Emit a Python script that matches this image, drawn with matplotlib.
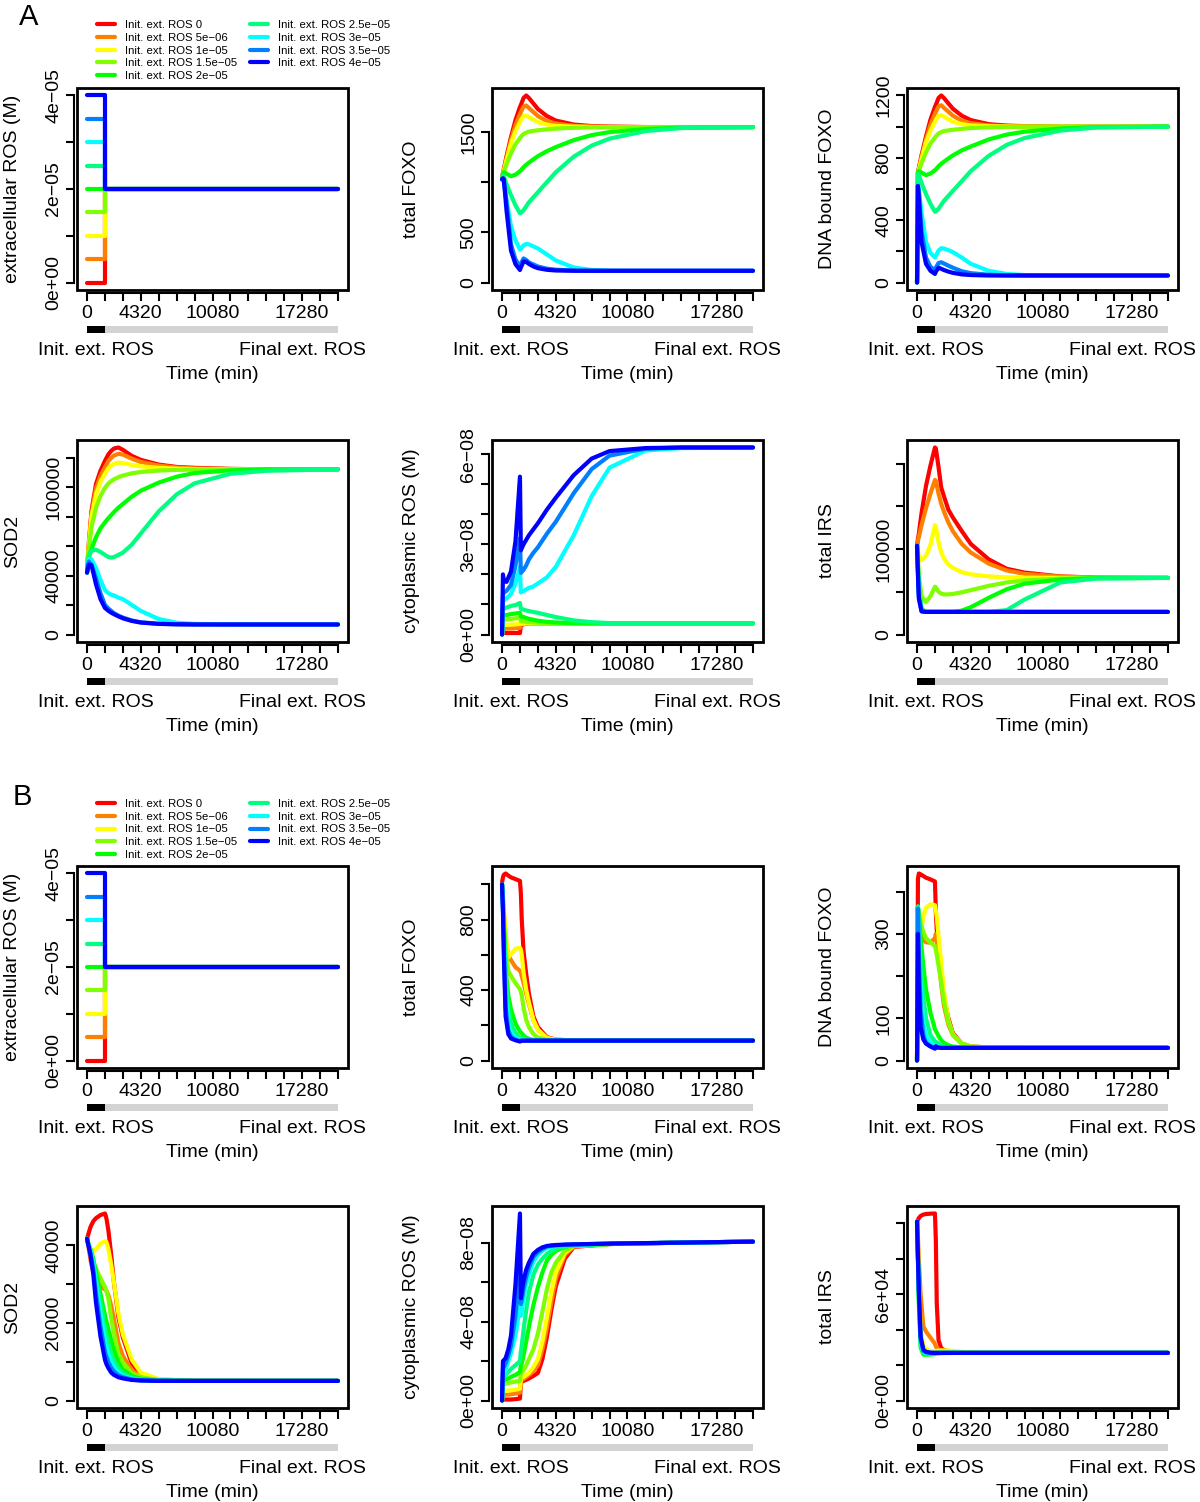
import matplotlib
matplotlib.use("Agg")
import matplotlib.pyplot as plt
import matplotlib.transforms as mtransforms
from matplotlib.patches import Rectangle
from matplotlib.lines import Line2D

plt.rcParams['font.family'] = ['Liberation Sans', 'DejaVu Sans']

W, H = 1200, 1502
MINUS = "\u2212"

# R rainbow(9, end=4/6), one colour per initial extracellular ROS level
colors = ["#FF0000", "#FF8000", "#FFFF00", "#80FF00", "#00FF00",
          "#00FF80", "#00FFFF", "#0080FF", "#0000FF"]
init_ros = [0, 5e-6, 1e-5, 1.5e-5, 2e-5, 2.5e-5, 3e-5, 3.5e-5, 4e-5]
init_labels = ["0", "5e-06", "1e-05", "1.5e-05", "2e-05",
               "2.5e-05", "3e-05", "3.5e-05", "4e-05"]
final_ros = 2e-5
switch_min = 1440
end_min = 20160

x_ticks = list(range(0, 20161, 1440))
x_shown = ["0", "4320", "10080", "17280"]

# extracellular ROS: initial level until day 1, then final level
ext_t = [0, 1440, 1440, 20160]

# ---- panel A (time grid in minutes) ----
t_a = [0, 72, 144, 360, 720, 1080, 1440, 1512, 1728, 1944, 2160, 2520,
       2880, 3600, 4320, 5760, 7200, 8640, 11520, 14400, 20160]

a_foxo = [
    [1030, 1090, 1130, 1260, 1450, 1620, 1750, 1770, 1840, 1865, 1840, 1785, 1730, 1660, 1615, 1575, 1560, 1555, 1550, 1550, 1550],
    [1030, 1085, 1120, 1240, 1420, 1570, 1680, 1700, 1755, 1765, 1740, 1700, 1660, 1610, 1585, 1562, 1555, 1552, 1550, 1550, 1550],
    [1030, 1080, 1110, 1220, 1390, 1510, 1600, 1620, 1660, 1665, 1650, 1625, 1600, 1575, 1562, 1554, 1551, 1550, 1550, 1550, 1550],
    [1030, 1075, 1100, 1180, 1290, 1380, 1440, 1452, 1480, 1495, 1505, 1512, 1518, 1527, 1535, 1543, 1547, 1549, 1550, 1550, 1550],
    [1030, 1090, 1100, 1085, 1060, 1075, 1110, 1118, 1150, 1175, 1195, 1228, 1260, 1310, 1350, 1420, 1470, 1500, 1530, 1545, 1550],
    [1030, 1070, 1060, 980, 870, 770, 690, 695, 720, 760, 800, 850, 900, 1000, 1100, 1255, 1365, 1435, 1510, 1540, 1550],
    [1030, 1030, 1000, 830, 560, 420, 330, 335, 370, 385, 380, 360, 340, 280, 220, 150, 125, 118, 117, 117, 117],
    [1030, 1035, 1010, 800, 380, 230, 160, 185, 240, 225, 200, 180, 160, 138, 128, 120, 117, 117, 117, 117, 117],
    [1030, 1040, 1030, 717, 317, 183, 125, 150, 210, 205, 185, 160, 143, 127, 120, 117, 117, 117, 117, 117, 117],
]

a_dna = [
    [0, 708, 734, 816, 937, 1045, 1127, 1140, 1184, 1200, 1184, 1149, 1115, 1070, 1042, 1016, 1007, 1003, 1000, 1000, 1000],
    [0, 705, 727, 803, 918, 1013, 1083, 1096, 1130, 1137, 1121, 1096, 1070, 1038, 1022, 1008, 1003, 1001, 1000, 1000, 1000],
    [0, 702, 721, 791, 899, 975, 1032, 1045, 1070, 1073, 1064, 1048, 1032, 1016, 1008, 1003, 1001, 1000, 1000, 1000, 1000],
    [0, 699, 714, 765, 835, 892, 930, 938, 956, 965, 972, 976, 980, 986, 991, 996, 998, 999, 1000, 1000, 1000],
    [0, 708, 714, 705, 689, 699, 721, 726, 746, 762, 775, 796, 816, 848, 873, 918, 949, 968, 988, 997, 1000],
    [0, 695, 689, 638, 568, 505, 454, 457, 473, 499, 524, 556, 588, 651, 715, 813, 883, 927, 975, 994, 1000],
    [0, 620, 600, 450, 260, 190, 160, 170, 205, 220, 218, 208, 195, 160, 120, 75, 55, 48, 45, 45, 45],
    [0, 620, 580, 330, 160, 100, 80, 95, 125, 130, 122, 108, 95, 72, 60, 50, 46, 45, 45, 45, 45],
    [0, 620, 540, 260, 120, 75, 55, 70, 95, 88, 80, 70, 62, 52, 48, 45, 45, 45, 45, 45, 45],
]

a_sod2 = [
    [42000, 53000, 62000, 84000, 102000, 111000, 117700, 118900, 122300, 124500, 126100, 126800, 125200, 121100, 118400, 115200, 113600, 113000, 112300, 112000, 112000],
    [42000, 52500, 61000, 82000, 99000, 107500, 113500, 114500, 117800, 119800, 121300, 122500, 122000, 119200, 117000, 114500, 113200, 112600, 112200, 112000, 112000],
    [42000, 52000, 60000, 80000, 95000, 103500, 109000, 110000, 112800, 114500, 115700, 116500, 116300, 115000, 114000, 113000, 112400, 112200, 112000, 112000, 112000],
    [42000, 51000, 58000, 73000, 86000, 94000, 99500, 100300, 102500, 104000, 105200, 106700, 107800, 109300, 110200, 111200, 111600, 111800, 112000, 112000, 112000],
    [42000, 48000, 52000, 58000, 66000, 72000, 76000, 76800, 79000, 81000, 83000, 86000, 88500, 93500, 97500, 103000, 107000, 109500, 111300, 112000, 112000],
    [42000, 50000, 54000, 57000, 57500, 56000, 54000, 53600, 52500, 52200, 52500, 54000, 55500, 61000, 68500, 83500, 95000, 102500, 109000, 111000, 112000],
    [42000, 48000, 51000, 51000, 45000, 37000, 30000, 29500, 28000, 27000, 26500, 25000, 24000, 20000, 16000, 10500, 8000, 7200, 6900, 6800, 6800],
    [42000, 47000, 49500, 47000, 38000, 28000, 20000, 19400, 17500, 16000, 14500, 12800, 11500, 9500, 8300, 7300, 7000, 6850, 6800, 6800, 6800],
    [42000, 45000, 47500, 47000, 34000, 24000, 18000, 17500, 16000, 14800, 13800, 12300, 11000, 9200, 8100, 7200, 6900, 6800, 6800, 6800, 6800],
]

# cytoplasmic ROS in units of 1e-8 M
a_cros = [
    [0, 0.05, 0.05, 0.05, 0.05, 0.05, 0.05, 0.3, 0.34, 0.36, 0.37, 0.37, 0.37, 0.37, 0.37, 0.37, 0.37, 0.37, 0.37, 0.37, 0.37],
    [0, 0.18, 0.19, 0.2, 0.2, 0.21, 0.22, 0.33, 0.35, 0.36, 0.37, 0.37, 0.37, 0.37, 0.37, 0.37, 0.37, 0.37, 0.37, 0.37, 0.37],
    [0, 0.3, 0.31, 0.32, 0.33, 0.34, 0.35, 0.36, 0.36, 0.37, 0.37, 0.37, 0.37, 0.37, 0.37, 0.37, 0.37, 0.37, 0.37, 0.37, 0.37],
    [0, 0.45, 0.47, 0.5, 0.52, 0.54, 0.55, 0.45, 0.43, 0.42, 0.41, 0.4, 0.39, 0.38, 0.37, 0.37, 0.37, 0.37, 0.37, 0.37, 0.37],
    [0, 0.6, 0.62, 0.65, 0.68, 0.7, 0.72, 0.6, 0.58, 0.55, 0.52, 0.49, 0.46, 0.42, 0.4, 0.38, 0.37, 0.37, 0.37, 0.37, 0.37],
    [0, 0.8, 0.85, 0.9, 0.95, 0.98, 1.05, 0.85, 0.83, 0.8, 0.78, 0.75, 0.72, 0.65, 0.58, 0.47, 0.41, 0.38, 0.37, 0.37, 0.37],
    [0, 1.1, 1.15, 1.2, 1.35, 1.7, 2.25, 1.4, 1.45, 1.5, 1.55, 1.6, 1.7, 1.9, 2.25, 3.3, 4.6, 5.55, 6.12, 6.2, 6.22],
    [0, 1.3, 1.4, 1.45, 1.65, 2.3, 3.2, 2.05, 2.15, 2.3, 2.5, 2.72, 2.9, 3.35, 3.75, 4.7, 5.5, 5.95, 6.18, 6.22, 6.22],
    [0, 2.0, 1.8, 1.75, 2.1, 3.1, 5.25, 2.8, 3.0, 3.15, 3.3, 3.5, 3.7, 4.15, 4.55, 5.3, 5.85, 6.1, 6.2, 6.22, 6.22],
]

a_irs = [
    [104000, 112000, 118000, 142000, 174000, 198000, 219000, 218000, 196000, 172000, 162000, 146000, 137000, 121000, 106000, 88000, 77000, 72500, 68000, 66700, 66300],
    [104000, 110000, 114000, 128000, 148000, 165000, 181000, 180000, 165000, 153000, 144000, 131000, 121000, 106000, 96000, 83000, 75000, 71000, 67800, 66700, 66300],
    [104000, 98000, 92000, 87000, 92000, 105000, 128000, 126000, 108000, 96000, 89000, 82000, 78000, 73000, 70500, 68000, 67000, 66600, 66300, 66300, 66300],
    [104000, 90000, 70000, 45000, 38000, 45000, 56000, 55000, 50000, 48000, 47000, 47000, 47500, 49500, 52000, 57000, 61000, 63500, 65600, 66200, 66300],
    [104000, 80000, 55000, 30000, 26500, 26500, 26500, 26500, 26500, 26500, 26500, 26500, 26500, 28000, 32000, 43000, 53000, 59500, 64500, 66000, 66300],
    [104000, 78000, 52000, 29000, 26500, 26500, 26500, 26500, 26500, 26500, 26500, 26500, 26500, 26500, 26500, 26500, 28500, 41000, 61000, 65500, 66300],
    [104000, 75000, 48000, 28000, 26500, 26500, 26500, 26500, 26500, 26500, 26500, 26500, 26500, 26500, 26500, 26500, 26500, 26500, 26500, 26500, 26500],
    [104000, 72000, 45000, 27500, 26500, 26500, 26500, 26500, 26500, 26500, 26500, 26500, 26500, 26500, 26500, 26500, 26500, 26500, 26500, 26500, 26500],
    [104000, 70000, 42000, 27000, 26500, 26500, 26500, 26500, 26500, 26500, 26500, 26500, 26500, 26500, 26500, 26500, 26500, 26500, 26500, 26500, 26500],
]

# ---- panel B ----
t_b = [0, 72, 144, 288, 504, 720, 1080, 1440, 1512, 1584, 1728, 1944,
       2160, 2520, 2880, 3600, 4320, 5760, 8640, 14400, 20160]

b_foxo = [
    [1010, 1040, 1055, 1062, 1050, 1040, 1030, 1020, 950, 800, 620, 490, 380, 250, 190, 133, 118, 114, 113, 113, 113],
    [1000, 930, 850, 680, 600, 570, 530, 510, 500, 480, 440, 380, 320, 230, 175, 130, 118, 114, 113, 113, 113],
    [1000, 940, 870, 720, 585, 605, 635, 640, 630, 600, 500, 400, 330, 230, 175, 128, 118, 114, 113, 113, 113],
    [1000, 920, 820, 620, 510, 480, 440, 405, 390, 370, 300, 230, 190, 150, 130, 118, 115, 113, 113, 113, 113],
    [1000, 900, 770, 520, 370, 290, 210, 165, 160, 155, 142, 130, 123, 117, 115, 114, 113, 113, 113, 113, 113],
    [1000, 890, 740, 460, 290, 210, 155, 130, 128, 126, 122, 118, 116, 114, 113, 113, 113, 113, 113, 113, 113],
    [1000, 880, 700, 380, 210, 160, 128, 118, 117, 116, 115, 114, 113, 113, 113, 113, 113, 113, 113, 113, 113],
    [1000, 870, 650, 300, 170, 135, 118, 110, 112, 113, 113, 113, 113, 113, 113, 113, 113, 113, 113, 113, 113],
    [1000, 850, 600, 250, 150, 125, 115, 108, 112, 113, 113, 113, 113, 113, 113, 113, 113, 113, 113, 113, 113],
]

b_dna = [
    [0, 430, 443, 441, 437, 433, 429, 424, 350, 310, 260, 200, 150, 100, 65, 40, 33, 31, 30, 30, 30],
    [0, 360, 340, 310, 285, 280, 279, 290, 300, 280, 240, 180, 130, 85, 60, 40, 33, 31, 30, 30, 30],
    [0, 350, 320, 300, 340, 362, 370, 368, 355, 340, 295, 230, 165, 95, 62, 40, 33, 31, 30, 30, 30],
    [0, 360, 350, 325, 305, 290, 280, 271, 262, 250, 225, 185, 140, 90, 62, 40, 33, 31, 30, 30, 30],
    [0, 365, 345, 290, 224, 168, 113, 74, 70, 66, 58, 48, 42, 36, 33, 31, 30, 30, 30, 30, 30],
    [0, 365, 320, 230, 150, 100, 60, 45, 44, 43, 40, 36, 33, 31, 30, 30, 30, 30, 30, 30, 30],
    [0, 360, 290, 170, 90, 60, 42, 35, 35, 34, 33, 32, 31, 30, 30, 30, 30, 30, 30, 30, 30],
    [0, 360, 260, 120, 60, 42, 34, 30, 31, 31, 30, 30, 30, 30, 30, 30, 30, 30, 30, 30, 30],
    [0, 300, 180, 80, 50, 40, 33, 28, 34, 32, 31, 30, 30, 30, 30, 30, 30, 30, 30, 30, 30],
]

b_sod2 = [
    [41700, 42500, 43300, 44800, 46200, 47000, 47800, 48200, 47500, 46500, 43500, 37500, 30500, 21500, 16200, 9500, 6800, 5400, 5100, 5060, 5060],
    [41700, 40500, 39000, 36000, 33000, 31000, 29500, 28600, 28400, 28100, 27000, 24500, 21000, 14800, 11500, 7700, 6200, 5300, 5060, 5060, 5060],
    [41700, 40800, 40000, 38900, 38200, 39000, 40500, 41000, 41000, 40600, 38800, 35000, 30500, 22500, 17000, 10500, 7200, 5500, 5080, 5060, 5060],
    [41700, 40800, 39800, 37800, 35500, 34000, 31500, 29300, 28700, 27900, 26000, 21200, 17500, 12000, 9800, 7000, 6000, 5300, 5080, 5060, 5060],
    [41700, 40800, 40100, 38900, 36600, 33000, 27500, 22000, 21000, 20000, 18200, 15500, 13000, 9800, 8000, 6300, 5600, 5200, 5080, 5060, 5060],
    [41700, 40800, 40000, 38600, 35800, 31500, 25000, 18500, 17500, 16500, 14600, 12000, 10300, 8200, 7000, 5900, 5400, 5150, 5060, 5060, 5060],
    [41700, 40700, 39900, 38300, 35000, 30000, 22500, 15500, 14500, 13600, 12000, 10000, 8700, 7200, 6400, 5600, 5300, 5100, 5060, 5060, 5060],
    [41700, 40600, 39700, 37800, 33800, 27500, 19000, 12500, 11700, 11000, 9800, 8400, 7500, 6500, 6000, 5400, 5200, 5080, 5060, 5060, 5060],
    [41700, 40500, 39500, 37200, 32500, 25200, 16500, 10500, 9800, 9200, 8300, 7200, 6600, 6000, 5700, 5300, 5150, 5080, 5060, 5060, 5060],
]

# cytoplasmic ROS (B) has its own, denser time grid around the rise
t_b_cros = [0, 72, 144, 288, 504, 720, 1080, 1440, 1512, 1584, 1728, 1944,
            2160, 2520, 2880, 3240, 3600, 3960, 4320, 5040, 5760, 8640, 14400, 20160]

# in units of 1e-8 M
b_cros = [
    [0, 0.05, 0.05, 0.05, 0.05, 0.05, 0.07, 0.1, 0.9, 0.95, 1.0, 1.05, 1.12, 1.25, 1.4, 2.1, 3.2, 4.6, 5.8, 7.2, 7.8, 7.95, 8.02, 8.07],
    [0, 0.3, 0.3, 0.3, 0.3, 0.32, 0.35, 0.4, 1.0, 1.05, 1.1, 1.2, 1.3, 1.5, 1.8, 2.6, 3.7, 5.0, 6.2, 7.4, 7.82, 7.95, 8.02, 8.07],
    [0, 0.5, 0.5, 0.5, 0.5, 0.52, 0.55, 0.6, 1.1, 1.15, 1.2, 1.3, 1.4, 1.7, 2.1, 3.0, 4.2, 5.5, 6.5, 7.5, 7.85, 7.95, 8.02, 8.07],
    [0, 0.8, 0.82, 0.85, 0.88, 0.92, 0.96, 1.0, 1.35, 1.4, 1.55, 1.8, 2.1, 2.6, 3.4, 4.5, 5.65, 6.5, 7.0, 7.6, 7.85, 7.95, 8.02, 8.07],
    [0, 1.0, 1.02, 1.06, 1.12, 1.2, 1.3, 1.45, 1.75, 1.9, 2.3, 3.0, 3.75, 4.85, 5.75, 6.5, 7.1, 7.4, 7.6, 7.8, 7.88, 7.95, 8.02, 8.07],
    [0, 1.15, 1.2, 1.3, 1.45, 1.6, 1.8, 2.0, 2.45, 2.8, 3.6, 4.6, 5.5, 6.4, 6.9, 7.2, 7.45, 7.6, 7.72, 7.83, 7.88, 7.95, 8.02, 8.07],
    [0, 1.2, 1.3, 1.55, 2.0, 2.4, 3.3, 4.8, 4.3, 4.5, 5.2, 5.9, 6.4, 7.05, 7.4, 7.6, 7.75, 7.8, 7.85, 7.9, 7.92, 7.97, 8.02, 8.07],
    [0, 1.6, 1.7, 1.9, 2.3, 2.8, 4.3, 6.8, 4.9, 5.1, 5.7, 6.3, 6.75, 7.3, 7.55, 7.7, 7.82, 7.86, 7.88, 7.91, 7.93, 7.97, 8.02, 8.07],
    [0, 2.0, 2.05, 2.15, 2.6, 3.3, 5.9, 9.5, 5.2, 5.5, 6.1, 6.65, 7.0, 7.45, 7.65, 7.78, 7.85, 7.88, 7.9, 7.92, 7.93, 7.97, 8.02, 8.07],
]

b_irs = [
    [101000, 102000, 103000, 104200, 105000, 105300, 105500, 105600, 90000, 55000, 34000, 29500, 28500, 27800, 27500, 27200, 27000, 26900, 26900, 26900, 26900],
    [101000, 92000, 80000, 60000, 42000, 39000, 35500, 32000, 30500, 29800, 28800, 28000, 27600, 27300, 27100, 27000, 26900, 26900, 26900, 26900, 26900],
    [101000, 85000, 65000, 40000, 31000, 29000, 28000, 27600, 27800, 28000, 28200, 28300, 28300, 28200, 28000, 27500, 27100, 26900, 26900, 26900, 26900],
    [101000, 82000, 60000, 35000, 28000, 27000, 26800, 26800, 27000, 27200, 27400, 27500, 27500, 27400, 27300, 27100, 27000, 26900, 26900, 26900, 26900],
    [101000, 80000, 55000, 30000, 26000, 25800, 26000, 26200, 26400, 26500, 26600, 26700, 26800, 26800, 26900, 26900, 26900, 26900, 26900, 26900, 26900],
    [101000, 80000, 58000, 32000, 27000, 26500, 26600, 26800, 26900, 26900, 26900, 26900, 26900, 26900, 26900, 26900, 26900, 26900, 26900, 26900, 26900],
    [101000, 81000, 60000, 33000, 27500, 26800, 26900, 26900, 26900, 26900, 26900, 26900, 26900, 26900, 26900, 26900, 26900, 26900, 26900, 26900, 26900],
    [101000, 81000, 62000, 35000, 28000, 27200, 26900, 26900, 26900, 26900, 26900, 26900, 26900, 26900, 26900, 26900, 26900, 26900, 26900, 26900, 26900],
    [101000, 81000, 63000, 36000, 28800, 27500, 27000, 26900, 26900, 26900, 26900, 26900, 26900, 26900, 26900, 26900, 26900, 26900, 26900, 26900, 26900],
]

# layout in pixels (box of each plot)
COL_LEFT = [77, 492, 907]
YLAB_OFF = [64, 80, 80]
BOX_W, BOX_H = 271, 202


def m(s):
    return s.replace("-", MINUS)


fig = plt.figure(figsize=(12, 15.02), dpi=100)


def draw_panel(col, box_top, t, series, ylabel, yticks, ylabels, scale=1.0):
    left = COL_LEFT[col]
    ax = fig.add_axes([left / W, 1 - (box_top + BOX_H) / H, BOX_W / W, BOX_H / H])
    for vals, c in zip(series, colors):
        ax.plot(t, [v * scale for v in vals], color=c, lw=3,
                solid_capstyle="round", solid_joinstyle="round", zorder=2)
    ymax = max(max(v) for v in series) * scale
    ax.set_xlim(-0.04 * end_min, 1.04 * end_min)
    ax.set_ylim(-0.04 * ymax, 1.04 * ymax)

    # spines first: moving a spine rebuilds the ticks
    for s in ["top", "right"]:
        ax.spines[s].set_visible(False)
    for s in ["left", "bottom"]:
        ax.spines[s].set_position(("outward", 2.5))
        ax.spines[s].set_linewidth(1.5)
    ax.spines["bottom"].set_bounds(0, end_min)
    ax.spines["left"].set_bounds(yticks[0], yticks[-1])
    ax.add_patch(Rectangle((0, 0), 1, 1, transform=ax.transAxes, fill=False,
                           lw=2, ec="black", clip_on=False, zorder=5))

    ax.set_xticks(x_ticks)
    ax.set_xticklabels([str(x) if str(x) in x_shown else "" for x in x_ticks])
    ax.set_yticks(yticks)
    ax.set_yticklabels([m(s) for s in ylabels], rotation=90,
                       rotation_mode="default", ha="right", va="center")
    ax.tick_params(direction="out", length=6, width=1.5, labelsize=14, pad=2)

    # exposure bar below the time axis
    trans = mtransforms.blended_transform_factory(ax.transData, ax.transAxes)
    ax.add_patch(Rectangle((0, -0.214), switch_min, 0.036, transform=trans,
                           color="black", lw=0, clip_on=False))
    ax.add_patch(Rectangle((switch_min, -0.214), end_min - switch_min, 0.036,
                           transform=trans, color="#D3D3D3", lw=0, clip_on=False))
    ax.text(switch_min / 2, -0.322, "Init. ext. ROS", transform=trans,
            ha="center", va="baseline", fontsize=14)
    ax.text(17280, -0.322, "Final ext. ROS", transform=trans,
            ha="center", va="baseline", fontsize=14)
    ax.text(0.5, -0.44, "Time (min)", transform=ax.transAxes,
            ha="center", va="baseline", fontsize=14)
    ax.text(-YLAB_OFF[col] / BOX_W, 0.5, ylabel, transform=ax.transAxes,
            rotation=90, ha="center", va="center", fontsize=14)
    return ax


def draw_legend(y0):
    for i, (c, lab) in enumerate(zip(colors, init_labels)):
        col, row = divmod(i, 5)
        xl = 97 + col * 153
        y = y0 + row * 12.75
        fig.add_artist(Line2D([xl / W, (xl + 18) / W], [1 - y / H, 1 - y / H],
                              color=c, lw=3, solid_capstyle="round"))
        fig.text((xl + 28) / W, 1 - y / H, "Init. ext. ROS " + m(lab),
                 fontsize=8.2, ha="left", va="center_baseline")


ext_series = [[v, v, final_ros, final_ros] for v in init_ros]

rows = [
    ("A", 29, 17, 24, 88, 440, t_a, t_a, a_foxo, a_dna, a_sod2, a_cros, a_irs),
    ("B", 22, 797, 803, 866, 1206, t_b, t_b_cros, b_foxo, b_dna, b_sod2, b_cros, b_irs),
]

for letter, lx, ly, leg_y, top1, top2, t, tc, foxo, dna, sod2, cros, irs in rows:
    fig.text(lx / W, 1 - ly / H, letter, fontsize=21, ha="center", va="center")
    draw_legend(leg_y)
    draw_panel(0, top1, ext_t, ext_series, "extracellular ROS (M)",
               [0, 1e-5, 2e-5, 3e-5, 4e-5], ["0e+00", "", "2e-05", "", "4e-05"])
    if letter == "A":
        draw_panel(1, top1, t, foxo, "total FOXO",
                   [0, 500, 1000, 1500], ["0", "500", "", "1500"])
        draw_panel(2, top1, t, dna, "DNA bound FOXO",
                   [0, 200, 400, 600, 800, 1000, 1200],
                   ["0", "", "400", "", "800", "", "1200"])
        draw_panel(0, top2, t, sod2, "SOD2",
                   [0, 20000, 40000, 60000, 80000, 100000, 120000],
                   ["0", "", "40000", "", "", "100000", ""])
        draw_panel(1, top2, tc, cros, "cytoplasmic ROS (M)",
                   [0, 1e-8, 2e-8, 3e-8, 4e-8, 5e-8, 6e-8],
                   ["0e+00", "", "", "3e-08", "", "", "6e-08"], scale=1e-8)
        draw_panel(2, top2, t, irs, "total IRS",
                   [0, 50000, 100000, 150000, 200000],
                   ["0", "", "100000", "", ""])
    else:
        draw_panel(1, top1, t, foxo, "total FOXO",
                   [0, 200, 400, 600, 800, 1000], ["0", "", "400", "", "800", ""])
        draw_panel(2, top1, t, dna, "DNA bound FOXO",
                   [0, 100, 200, 300, 400], ["0", "100", "", "300", ""])
        draw_panel(0, top2, t, sod2, "SOD2",
                   [0, 10000, 20000, 30000, 40000], ["0", "", "20000", "", "40000"])
        draw_panel(1, top2, tc, cros, "cytoplasmic ROS (M)",
                   [0, 2e-8, 4e-8, 6e-8, 8e-8],
                   ["0e+00", "", "4e-08", "", "8e-08"], scale=1e-8)
        draw_panel(2, top2, t, irs, "total IRS",
                   [0, 20000, 40000, 60000, 80000, 100000],
                   ["0e+00", "", "", "6e+04", "", ""])

fig.savefig("out.png", dpi=100)
